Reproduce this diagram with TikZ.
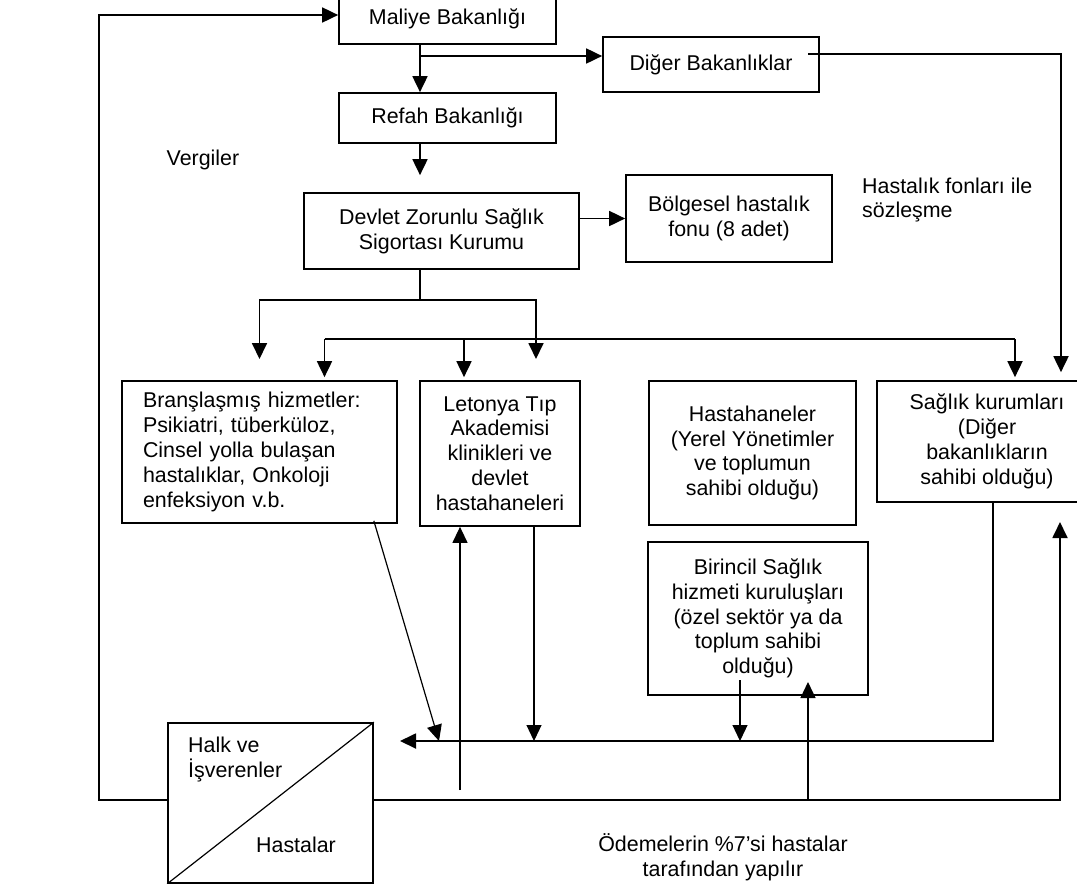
\documentclass[tikz,border=0pt]{standalone}
\usepackage{fontspec}
\setmainfont{Liberation Sans}
\usepackage{tikz}
\usetikzlibrary{arrows.meta, positioning, calc}

\begin{document}
\begin{tikzpicture}[
  x=1pt, y=-1pt,
  box/.style={draw, line width=1.7pt, align=center, inner sep=2pt,
              font=\fontsize{21.4}{24.8}\selectfont},
  lbl/.style={inner sep=0pt, font=\fontsize{21.4}{24.8}\selectfont},
  link/.style={line width=1.8pt},
  arr/.style={-{Triangle[length=16pt, width=15pt]}, line width=1.8pt},
  lite/.style={line width=1.2pt}
]
\useasboundingbox (0,0) rectangle (1077,884);

\node[box, minimum width=217pt, minimum height=50pt] (maliye) at (447.5,19) {Maliye Bakanlığı};
\node[box, minimum width=217pt, minimum height=50pt] (refah) at (447.5,118) {Refah Bakanlığı};
\node[box, minimum width=216pt, minimum height=55pt] (diger) at (711,64.5) {Diğer Bakanlıklar};
\node[box, minimum width=275pt, minimum height=76pt] (devlet) at (441.5,231) {Devlet Zorunlu Sağlık\\Sigortası Kurumu};
\node[box, minimum width=206pt, minimum height=87pt] (bolge) at (729,218.5) {Bölgesel hastalık\\fonu (8 adet)};

\node[box, minimum width=275pt, minimum height=142pt, text width=233pt, align=left] (brans) at (259.5,452)
  {Branşlaşmış hizmetler:\\Psikiatri, tüberküloz,\\Cinsel yolla bulaşan\\hastalıklar, Onkoloji\\enfeksiyon v.b.};
\node[box, minimum width=160pt, minimum height=145pt] (letonya) at (500,453.5)
  {Letonya Tıp\\Akademisi\\klinikleri ve\\devlet\\hastahaneleri};
\node[box, minimum width=207pt, minimum height=144pt] (hastane) at (752.5,453)
  {Hastahaneler\\(Yerel Yönetimler\\ve toplumun\\sahibi olduğu)};
\node[box, minimum width=220pt, minimum height=121pt] (saglik) at (987,441.5)
  {Sağlık kurumları\\(Diğer\\bakanlıkların\\sahibi olduğu)};
\node[box, minimum width=220pt, minimum height=153pt] (birincil) at (758,618.5)
  {Birincil Sağlık\\hizmeti kuruluşları\\(özel sektör ya da\\toplum sahibi\\olduğu)};

\node[box, minimum width=205pt, minimum height=160pt] (halk) at (270.5,803) {};
\draw[lite] (halk.south west) -- (halk.north east);
\node[lbl, anchor=north west, align=left] (halkTxt) at (188,737) {Halk ve\\İşverenler};
\node[lbl] (hastaTxt) at (296,845) {Hastalar};

\node[lbl] (vergi) at (203,160) {Vergiler};
\node[lbl, anchor=west, align=left] (fonTxt) at (862,200) {Hastalık fonları ile\\sözleşme};
\node[lbl, align=center] (odemeTxt) at (723,857) {Ödemelerin \%7’si hastalar\\tarafından yapılır};

\coordinate (trunk) at (420,0);
\coordinate (split) at (420,56);
\draw[arr] (maliye.south -| trunk) -- (refah.north -| trunk);
\draw[arr] (split) -- (split -| diger.west);
\draw[arr, shorten >=17pt] (refah.south -| trunk) -- (devlet.north -| trunk);
\draw[arr] (devlet.east |- bolge.west) -- (bolge.west);

\coordinate (digerOut) at (808,54);
\coordinate (railD) at (1061,54);
\draw[arr, shorten >=8pt] (digerOut) -| (railD |- saglik.north);

\coordinate (busA) at (420,300);
\coordinate (dropL) at (259.5,359);
\coordinate (dropR) at (536,359);
\draw[link] (devlet.south -| busA) -- (busA);
\draw[arr] (busA) -| (dropL);
\draw[arr] (busA) -| (dropR);

\coordinate (busB) at (0,339);
\coordinate (tapB) at ([xshift=65pt]brans.north);
\coordinate (tapL) at ([xshift=-36pt]letonya.north);
\coordinate (tapS) at ([xshift=28pt]saglik.north);
\draw[link] (tapB |- busB) -- (tapS |- busB);
\foreach \tap in {tapB, tapL, tapS}
  \draw[arr, shorten >=3pt] (\tap |- busB) -- (\tap);

\coordinate (retL) at (400,741);
\coordinate (brDrop) at (439,741);
\coordinate (letUp) at (460,790);
\coordinate (letDn) at (534,741);
\coordinate (birOut) at (740,680);
\coordinate (birDn) at (740,741);
\coordinate (birFoot) at (808,800);
\coordinate (birIn) at (808,682);
\draw[arr] ([xshift=6pt]saglik.south) |- (retL);
\draw[arr, lite] ([xshift=-24pt, yshift=3pt]brans.south east) -- (brDrop);
\draw[arr, lite] (letUp) -- (letUp |- letonya.south);
\draw[arr, lite] (letDn |- letonya.south) -- (letDn);
\draw[arr, lite] (birOut) -- (birDn);
\draw[arr, lite] (birFoot) -- (birIn);

\coordinate (loopL) at (99,800);
\coordinate (loopR) at (1060,800);
\coordinate (sagIn) at (1060,522);
\draw[arr] (halk.west |- loopL) -- (loopL) |- ([yshift=4pt]maliye.west);
\draw[arr] (halk.east |- loopR) -- (loopR) -- (sagIn);
\end{tikzpicture}
\end{document}
